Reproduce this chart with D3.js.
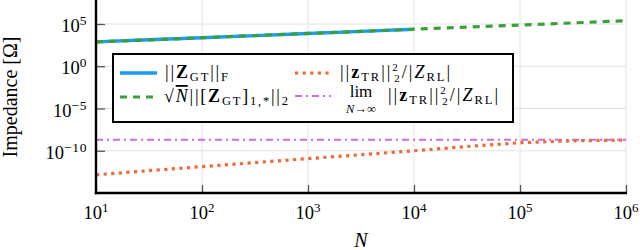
<!DOCTYPE html>
<html><head><meta charset="utf-8">
<script src="https://cdn.jsdelivr.net/npm/d3@7"></script>
<style>
html,body{margin:0;padding:0;background:#fff;}
svg{display:block;}
text{font-family:"Liberation Serif","DejaVu Serif",serif;fill:#000;}
</style></head>
<body>
<svg id="chart" width="640" height="250"></svg>
<script>
// ---- data ----
const nValues = [10, 31.62, 100, 316.2, 1000, 3162, 10000, 31623, 100000, 316228, 1000000];
const zgtFrob = [759, 1349, 2399, 4266, 7586, 13490, 23988];              // N = 10 .. 1e4
const zgtRowNorm = [759, 1349, 2399, 4266, 7586, 13490, 23988, 42658, 75858, 134896, 239883];
const ztrRatio = [1.41e-13, 4.37e-13, 1.32e-12, 3.98e-12, 1.17e-11, 3.39e-11, 1.0e-10, 3.16e-10, 8.9e-10, 1.51e-9, 1.82e-9];
const limitN = [10, 1000000];
const limitValue = [2.0e-9, 2.0e-9];
const xTicks = [1e1, 1e2, 1e3, 1e4, 1e5, 1e6];
const xTickExp = ["1", "2", "3", "4", "5", "6"];
const yTicks = [1e5, 1e0, 1e-5, 1e-10];
const yTickExp = ["5", "0", "\u22125", "\u221210"];

const svg = d3.select("#chart");
const x = d3.scaleLog().domain([10, 1e6]).range([96, 626]);
const y = d3.scaleLog().domain([1e-15, 1e5]).range([193, 24]);
const plotTop = 0, plotBottom = 193, plotLeft = 96, plotRight = 626;

svg.append("defs").append("clipPath").attr("id", "clip")
  .append("rect").attr("x", plotLeft).attr("y", plotTop)
  .attr("width", plotRight - plotLeft + 2).attr("height", plotBottom - plotTop);

// grid
const grid = svg.append("g");
grid.selectAll(".vg").data(xTicks).enter().append("line")
  .attr("x1", d => x(d)).attr("x2", d => x(d)).attr("y1", plotTop).attr("y2", plotBottom)
  .attr("stroke", "#e2e2e2").attr("stroke-width", 1);
grid.selectAll(".hg").data(yTicks).enter().append("line")
  .attr("x1", plotLeft).attr("x2", plotRight).attr("y1", d => y(d)).attr("y2", d => y(d))
  .attr("stroke", "#e2e2e2").attr("stroke-width", 1);

// ticks (inward)
const xAxis = d3.axisTop(x).tickValues(xTicks).tickSize(8).tickFormat("");
const ga = svg.append("g").attr("transform", `translate(0,${plotBottom})`).call(xAxis);
ga.select(".domain").remove();
ga.selectAll(".tick line").attr("stroke", "#555").attr("stroke-width", 1.3);
const yAxis = d3.axisRight(y).tickValues(yTicks).tickSize(9).tickFormat("");
const gy = svg.append("g").attr("transform", `translate(${plotLeft},0)`).call(yAxis);
gy.select(".domain").remove();
gy.selectAll(".tick line").attr("stroke", "#555").attr("stroke-width", 1.3);

// series
const line = d3.line().x(d => x(d[0])).y(d => y(d[1]));
const lines = svg.append("g").attr("clip-path", "url(#clip)");
const purpleCol = "#c86ee0", orangeCol = "#ee6a3a", blueCol = "#1a9cf2", greenCol = "#3ba03b";
lines.append("path").datum(limitN.map((n, i) => [n, limitValue[i]])).attr("d", line)
  .attr("fill", "none").attr("stroke", purpleCol).attr("stroke-width", 2.2)
  .attr("stroke-dasharray", "7,4,2,4");
lines.append("path").datum(nValues.map((n, i) => [n, ztrRatio[i]])).attr("d", line)
  .attr("fill", "none").attr("stroke", orangeCol).attr("stroke-width", 3.2)
  .attr("stroke-dasharray", "3.2,4.4");
lines.append("path").datum(nValues.slice(0, zgtFrob.length).map((n, i) => [n, zgtFrob[i]])).attr("d", line)
  .attr("fill", "none").attr("stroke", blueCol).attr("stroke-width", 3.4);
lines.append("path").datum(nValues.map((n, i) => [n, zgtRowNorm[i]])).attr("d", line)
  .attr("fill", "none").attr("stroke", greenCol).attr("stroke-width", 3.2)
  .attr("stroke-dasharray", "7,6");

// axis lines
svg.append("line").attr("x1", plotLeft).attr("x2", plotLeft).attr("y1", plotTop).attr("y2", plotBottom + 1.2)
  .attr("stroke", "#000").attr("stroke-width", 2.4);
svg.append("line").attr("x1", plotLeft - 1.2).attr("x2", plotRight + 1).attr("y1", plotBottom).attr("y2", plotBottom)
  .attr("stroke", "#000").attr("stroke-width", 2.4);

// tick labels
xTicks.forEach((v, i) => {
  const t = svg.append("text").attr("x", x(v)).attr("y", 219).attr("text-anchor", "middle").attr("font-size", 18.5);
  t.append("tspan").text("10");
  t.append("tspan").attr("dy", -7).attr("font-size", 13).text(xTickExp[i]);
});
yTicks.forEach((v, i) => {
  const t = svg.append("text").attr("x", 87).attr("y", y(v) + 8).attr("text-anchor", "end").attr("font-size", 18.5);
  t.append("tspan").text("10");
  t.append("tspan").attr("dy", -7).attr("font-size", 13.5).attr("letter-spacing", 0.6).text(yTickExp[i]);
});

// axis titles
svg.append("text").attr("x", (plotLeft + plotRight) / 2).attr("y", 247).attr("text-anchor", "middle")
  .attr("font-size", 20).attr("font-style", "italic").text("N");
svg.append("text").attr("transform", "translate(17,97) rotate(-90)").attr("text-anchor", "middle")
  .attr("font-size", 20).text("Impedance [\u03A9]");

// legend
const lg = svg.append("g");
lg.append("rect").attr("x", 113).attr("y", 54).attr("width", 400).attr("height", 68)
  .attr("fill", "#fff").attr("stroke", "#000").attr("stroke-width", 2);
const row1 = 73, row2 = 97;
lg.append("line").attr("x1", 120).attr("x2", 157).attr("y1", row1).attr("y2", row1)
  .attr("stroke", blueCol).attr("stroke-width", 3.4);
lg.append("line").attr("x1", 120).attr("x2", 157).attr("y1", row2).attr("y2", row2)
  .attr("stroke", greenCol).attr("stroke-width", 3.2).attr("stroke-dasharray", "7,6");
lg.append("line").attr("x1", 295).attr("x2", 331).attr("y1", row1).attr("y2", row1)
  .attr("stroke", orangeCol).attr("stroke-width", 3.2).attr("stroke-dasharray", "3.2,4.4");
lg.append("line").attr("x1", 295).attr("x2", 331).attr("y1", row2 - 1).attr("y2", row2 - 1)
  .attr("stroke", purpleCol).attr("stroke-width", 2.2).attr("stroke-dasharray", "7,4,2,4");

const fs = 18, sub = 12.5;
// ||Z_GT||_F
let t = lg.append("text").attr("x", 165).attr("y", row1 + 5).attr("font-size", fs)
  .attr("textLength", 63).attr("lengthAdjust", "spacing");
t.append("tspan").text("||");
t.append("tspan").attr("font-weight", "bold").text("Z");
t.append("tspan").attr("font-size", sub).attr("dy", 3).text("GT");
t.append("tspan").attr("dy", -3).text("||");
t.append("tspan").attr("font-size", sub).attr("dy", 3).text("F");

// sqrt(N) ||[Z_GT]_{1,*}||_2
t = lg.append("text").attr("x", 164).attr("y", row2 + 5).attr("font-size", fs)
  .attr("textLength", 124).attr("lengthAdjust", "spacing");
t.append("tspan").text("\u221A");
t.append("tspan").attr("font-style", "italic").attr("text-decoration", "overline").text("N");
t.append("tspan").text("||[");
t.append("tspan").attr("font-weight", "bold").text("Z");
t.append("tspan").attr("font-size", sub).attr("dy", 3).text("GT");
t.append("tspan").attr("dy", -3).text("]");
t.append("tspan").attr("font-size", sub).attr("dy", 3).text("1,*");
t.append("tspan").attr("dy", -3).text("||");
t.append("tspan").attr("font-size", sub).attr("dy", 3).text("2");

function ratioText(x0, yb) {
  const tt = lg.append("text").attr("x", x0).attr("y", yb).attr("font-size", fs)
    .attr("textLength", 110).attr("lengthAdjust", "spacing");
  tt.append("tspan").text("||");
  tt.append("tspan").attr("font-weight", "bold").text("z");
  tt.append("tspan").attr("font-size", sub).attr("dy", 3).text("TR");
  tt.append("tspan").attr("dy", -3).text("||");
  tt.append("tspan").attr("font-size", 11).attr("dy", -7).text("2");
  tt.append("tspan").attr("font-size", 11).attr("dx", -5.5).attr("dy", 11).text("2");
  tt.append("tspan").attr("dy", -4).text("/|");
  tt.append("tspan").attr("font-style", "italic").text("Z");
  tt.append("tspan").attr("font-size", sub).attr("dy", 3).text("RL");
  tt.append("tspan").attr("dy", -3).text("|");
}
ratioText(340, row1 + 5);
lg.append("text").attr("x", 361).attr("y", row2).attr("text-anchor", "middle").attr("font-size", 17).text("lim");
const sb = lg.append("text").attr("x", 361).attr("y", row2 + 16).attr("text-anchor", "middle").attr("font-size", 12.5);
sb.append("tspan").attr("font-style", "italic").text("N");
sb.append("tspan").text("\u2192\u221E");
ratioText(388, row2 + 4);
</script>
</body></html>
